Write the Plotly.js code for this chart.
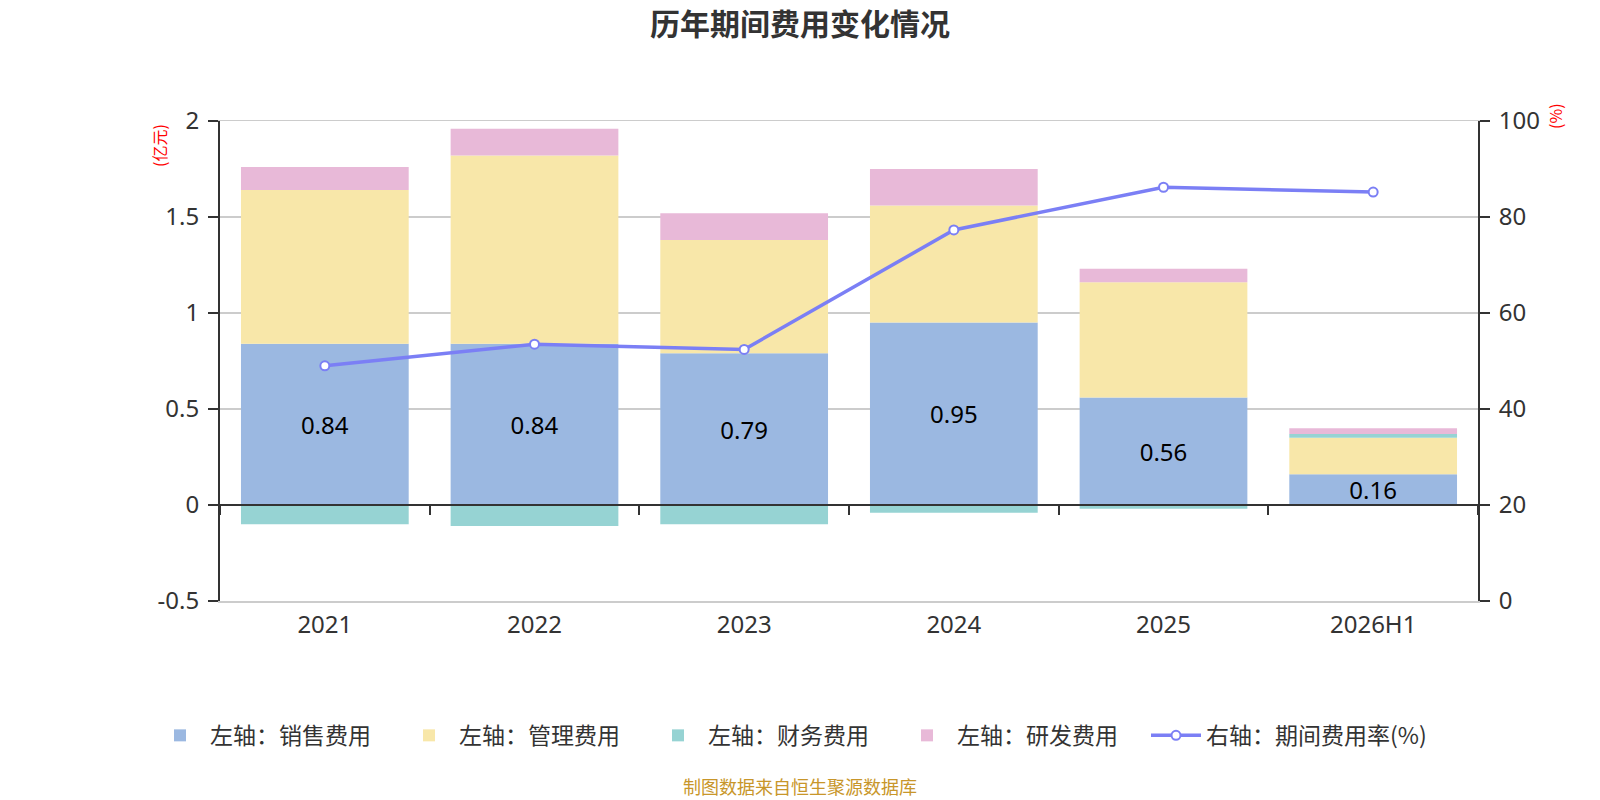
<!DOCTYPE html>
<html>
<head>
<meta charset="utf-8">
<script src="https://cdn.plot.ly/plotly-3.0.1.min.js"></script>
<style>
  html, body { margin: 0; padding: 0; background: #fff; }
  #chart { width: 1600px; height: 800px; }
</style>
</head>
<body>
<div id="chart"></div>
<script>
var CHART = document.getElementById('chart');

var years = ['2021', '2022', '2023', '2024', '2025', '2026H1'];
var sales_cost = [0.84, 0.84, 0.79, 0.95, 0.56, 0.16];
var admin_cost = [0.80, 0.98, 0.59, 0.61, 0.60, 0.19];
var finance_cost = [-0.10, -0.11, -0.10, -0.04, -0.02, 0.02];
var rnd_cost = [0.12, 0.14, 0.14, 0.19, 0.07, 0.03];
var expense_rate = [49.0, 53.5, 52.4, 77.3, 86.2, 85.2];

var left_ticks = [-0.5, 0, 0.5, 1, 1.5, 2];
var left_tick_text = ['-0.5', '0', '0.5', '1', '1.5', '2'];

var FONT = 'Noto Sans, Noto Sans CJK SC, sans-serif';
var CJK_FONT = 'Noto Sans CJK SC, Noto Sans, sans-serif';
var PLOT_L = 220, PLOT_W = 1258;
var CAT_RANGE = [-0.5, years.length - 0.5];

var trace1 = {  x: years,
                y: sales_cost,
                type: 'bar',
                name: '左轴：销售费用',
                marker: {color: '#9bb8e1'},
                text: sales_cost.map(function (v) { return v.toFixed(2); }),
                textposition: 'inside',
                insidetextanchor: 'middle',
                constraintext: 'none',
                textangle: 0,
                textfont: {size: 24, color: '#000', family: FONT},
                hoverinfo: 'skip'
             };

var trace2 = {  x: years,
                y: admin_cost,
                type: 'bar',
                name: '左轴：管理费用',
                marker: {color: '#f8e7a9'},
                hoverinfo: 'skip'
             };

var trace3 = {  x: years,
                y: finance_cost,
                type: 'bar',
                name: '左轴：财务费用',
                marker: {color: '#96d3d3'},
                hoverinfo: 'skip'
             };

var trace4 = {  x: years,
                y: rnd_cost,
                type: 'bar',
                name: '左轴：研发费用',
                marker: {color: '#e8b9d8'},
                hoverinfo: 'skip'
             };

var trace5 = {  x: years,
                y: expense_rate,
                xaxis: 'x2',
                yaxis: 'y2',
                type: 'scatter',
                mode: 'lines+markers',
                name: '右轴：期间费用率(%)',
                legend: 'legend2',
                line: {color: '#7b7ff5', width: 3.5},
                marker: {size: 9, color: '#fff', line: {color: '#7b7ff5', width: 2}},
                hoverinfo: 'skip'
             };

var data = [trace1, trace2, trace3, trace4, trace5];

var legendFont = {size: 23, color: '#333', family: CJK_FONT};

var layout = {width: 1600, height: 800,
              font: {family: FONT, color: '#333'},
              paper_bgcolor: '#fff',
              plot_bgcolor: '#fff',
              barmode: 'relative',
              bargap: 0.2,
              showlegend: true,
              margin: {l: PLOT_L, r: 1600 - PLOT_L - PLOT_W, t: 121, b: 199, pad: 0, autoexpand: false},
              title: {text: '<b>历年期间费用变化情况</b>',
                      x: 0.5, xref: 'container', xanchor: 'center',
                      y: 0.97, yref: 'container', yanchor: 'middle',
                      font: {size: 30, color: '#333', family: CJK_FONT}},
              legend: {orientation: 'h', x: (150 - PLOT_L) / PLOT_W, xanchor: 'left',
                       y: -0.28, yanchor: 'middle', font: legendFont,
                       itemwidth: 50, entrywidth: 184, entrywidthmode: 'pixels'},
              legend2: {orientation: 'h', x: (1146 - PLOT_L) / PLOT_W, xanchor: 'left',
                        y: -0.28, yanchor: 'middle', font: legendFont,
                        itemwidth: 50},
              xaxis: {type: 'category', range: CAT_RANGE,
                      showline: true, mirror: true, linecolor: '#cccccc', linewidth: 1.5,
                      ticks: '', showgrid: false, zeroline: false, ticklabelstandoff: 2,
                      tickfont: {size: 24, color: '#333'}},
              xaxis2: {type: 'category', range: CAT_RANGE, overlaying: 'x', anchor: 'free', position: 0.2,
                       side: 'bottom', showline: true, linecolor: '#333', linewidth: 2,
                       ticks: 'outside', tickson: 'boundaries', ticklen: 9, tickwidth: 2,
                       tickcolor: '#333', showticklabels: false, showgrid: false, zeroline: false},
              yaxis: {range: [-0.5, 2], tickvals: left_ticks, ticktext: left_tick_text,
                      showgrid: true, gridcolor: '#cccccc', gridwidth: 1.5,
                      zeroline: false, showline: true, linecolor: '#333', linewidth: 2,
                      ticks: 'outside', ticklen: 10, tickwidth: 2, tickcolor: '#333',
                      ticklabelstandoff: 4,
                      tickfont: {size: 24, color: '#333'}},
              yaxis2: {range: [0, 100], dtick: 20, overlaying: 'y', side: 'right',
                       anchor: 'x', showgrid: false, zeroline: false,
                       showline: true, linecolor: '#333', linewidth: 2,
                       ticks: 'outside', ticklen: 10, tickwidth: 2, tickcolor: '#333',
                       ticklabelstandoff: 4,
                       tickfont: {size: 24, color: '#333'}},
              annotations: [
                  {text: '(亿元)', xref: 'paper', yref: 'paper', x: -0.0485, y: 0.95,
                   xanchor: 'center', yanchor: 'middle', textangle: -90, showarrow: false,
                   font: {size: 16, color: '#ff0000', family: CJK_FONT}},
                  {text: '(%)', xref: 'paper', yref: 'paper', x: 1.061, y: 1.01,
                   xanchor: 'center', yanchor: 'middle', textangle: -90, showarrow: false,
                   font: {size: 16, color: '#ff0000', family: CJK_FONT}},
                  {text: '制图数据来自恒生聚源数据库', xref: 'paper', yref: 'paper',
                   x: (800 - PLOT_L) / PLOT_W, y: -0.386, xanchor: 'center', yanchor: 'middle',
                   showarrow: false, font: {size: 18, color: '#c8962a', family: CJK_FONT}}
              ]
             };

var config = {'displayModeBar': false, 'responsive': false, 'staticPlot': true};

Plotly.newPlot(CHART, data, layout, config);
</script>
</body>
</html>
